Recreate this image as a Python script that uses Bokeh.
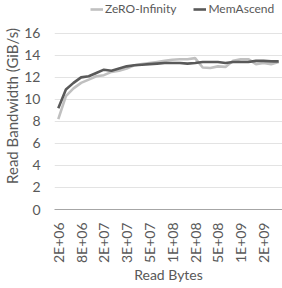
from bokeh.plotting import figure
from bokeh.models import Range1d, FixedTicker, Legend, LegendItem
from bokeh.embed import file_html
from bokeh.resources import INLINE
import math

tick_labels = ["2E+06", "8E+06", "2E+07", "3E+07", "5E+07",
               "1E+08", "2E+08", "5E+08", "1E+09", "2E+09"]

zero_infinity = [8.2, 10.3, 11.0, 11.5, 11.8, 12.1, 12.2, 12.5, 12.6, 12.8,
                 13.1, 13.2, 13.3, 13.4, 13.5, 13.6, 13.65, 13.65, 13.75, 12.9,
                 12.85, 13.0, 12.95, 13.5, 13.65, 13.65, 13.2, 13.3, 13.2, 13.4]

memascend = [9.2, 10.9, 11.5, 12.0, 12.1, 12.4, 12.7, 12.6, 12.8, 13.0,
             13.1, 13.15, 13.2, 13.25, 13.3, 13.3, 13.3, 13.25, 13.3, 13.4,
             13.4, 13.4, 13.3, 13.4, 13.4, 13.4, 13.5, 13.5, 13.45, 13.45]

x = list(range(len(memascend)))

FONT = "Lato"
TXT = "#595959"

p = figure(width=282, height=286, output_backend="svg", toolbar_location=None,
           x_range=Range1d(-0.5, len(x) - 0.5), y_range=Range1d(0, 18.8),
           min_border_left=0, min_border_right=0, min_border_top=2, min_border_bottom=0)
p.outline_line_color = None
p.background_fill_color = "white"

r1 = p.line(x, zero_infinity, line_color="#C0C0C0", line_width=2.6)
r2 = p.line(x, memascend, line_color="#595959", line_width=2.6)

p.xaxis.ticker = FixedTicker(ticks=x[::3])
p.xaxis.major_label_overrides = {t: lab for t, lab in zip(x[::3], tick_labels)}
p.xaxis.major_label_orientation = math.pi / 2
p.xaxis.axis_label = "Read Bytes"
p.xaxis.axis_line_color = "#A6A6A6"
p.xaxis.major_tick_line_color = None
p.xaxis.minor_tick_line_color = None
p.xaxis.major_label_standoff = 7
p.xaxis.axis_label_standoff = 0

p.yaxis.ticker = FixedTicker(ticks=[0, 2, 4, 6, 8, 10, 12, 14, 16])
p.yaxis.axis_label = "Read Bandwidth (GiB/s)"
p.yaxis.axis_line_color = None
p.yaxis.major_tick_line_color = None
p.yaxis.minor_tick_line_color = None
p.yaxis.major_label_standoff = 8
p.yaxis.axis_label_standoff = 0

for ax in (p.xaxis[0], p.yaxis[0]):
    ax.major_label_text_font = FONT
    ax.major_label_text_font_size = "14px"
    ax.major_label_text_color = TXT
    ax.axis_label_text_font = FONT
    ax.axis_label_text_font_size = "14px"
    ax.axis_label_text_font_style = "normal"
    ax.axis_label_text_color = TXT
p.yaxis.axis_label_text_font_size = "15px"

p.xgrid.grid_line_color = None
p.ygrid.grid_line_color = "#E3E3E3"
p.ygrid.grid_line_width = 1

legend = Legend(items=[LegendItem(label="ZeRO-Infinity", renderers=[r1]),
                       LegendItem(label="MemAscend", renderers=[r2])],
                orientation="horizontal", location=(36, 193))
legend.label_text_font = FONT
legend.label_text_font_size = "12px"
legend.label_text_color = TXT
legend.border_line_color = None
legend.background_fill_alpha = 0
legend.glyph_width = 13
legend.glyph_height = 14
legend.label_height = 14
legend.label_standoff = 2
legend.spacing = 17
legend.padding = 1
legend.margin = 0
p.add_layout(legend, "center")

open("out.html", "w").write(file_html(p, INLINE))
